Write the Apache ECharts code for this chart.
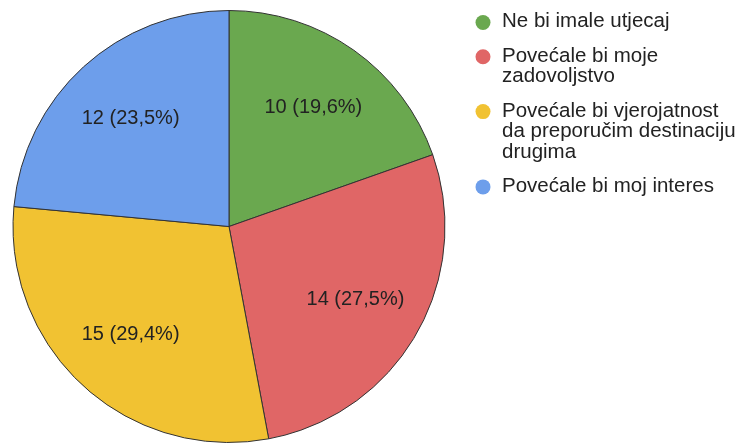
<!DOCTYPE html>
<html>
<head>
<meta charset="utf-8">
<script src="https://cdn.jsdelivr.net/npm/echarts@6/dist/echarts.min.js"></script>
<style>
html,body{margin:0;padding:0;background:#fff;}
#chart{width:740px;height:443px;}
</style>
</head>
<body>
<div id="chart"></div>
<script>
var categories = ['Ne bi imale utjecaj', 'Povećale bi moje zadovoljstvo', 'Povećale bi vjerojatnost da preporučim destinaciju drugima', 'Povećale bi moj interes'];
var legendLines = [['Ne bi imale utjecaj'], ['Povećale bi moje', 'zadovoljstvo'], ['Povećale bi vjerojatnost', 'da preporučim destinaciju', 'drugima'], ['Povećale bi moj interes']];
var values = [10, 14, 15, 12];
var colors = ['#6aa84f', '#e06666', '#f1c232', '#6d9eeb'];

var total = values.reduce(function (a, b) { return a + b; }, 0);
var data = categories.map(function (c, i) {
  return { name: c, value: values[i], itemStyle: { color: colors[i] } };
});

var FONT = 'Arial, "Liberation Sans", sans-serif';
var LH = 20.5;
var graphics = [];
var y = 13;
legendLines.forEach(function (lines, i) {
  graphics.push({
    type: 'circle', shape: { cx: 483, cy: y + 9.5, r: 7.5 },
    style: { fill: colors[i] }, silent: true
  });
  graphics.push({
    type: 'text', x: 502, y: y - 1.5,
    style: { text: lines.join('\n'), font: '20.5px ' + FONT, fill: '#222', lineHeight: LH, verticalAlign: 'top', align: 'left' },
    silent: true
  });
  y += lines.length * LH + 13.8;
});

var chart = echarts.init(document.getElementById('chart'), null, { renderer: 'canvas' });
chart.setOption({
  animation: false,
  backgroundColor: '#fff',
  graphic: graphics,
  series: [
    {
      type: 'pie', center: [229, 226.5], radius: [0, 216],
      startAngle: 90, clockwise: true, silent: true,
      itemStyle: { borderColor: '#333', borderWidth: 1 },
      label: { show: false }, labelLine: { show: false },
      data: data
    },
    {
      type: 'pie', center: [229, 226.5], radius: [70, 216],
      startAngle: 90, clockwise: true, silent: true,
      itemStyle: { color: 'rgba(0,0,0,0)', borderWidth: 0 },
      label: {
        show: true, position: 'inside', color: '#222', fontSize: 20, fontFamily: FONT,
        formatter: function (p) {
          return p.value + ' (' + (p.value / total * 100).toFixed(1).replace('.', ',') + '%)';
        }
      },
      labelLine: { show: false },
      data: data.map(function (d) { return { name: d.name, value: d.value }; })
    }
  ]
});
</script>
</body>
</html>
